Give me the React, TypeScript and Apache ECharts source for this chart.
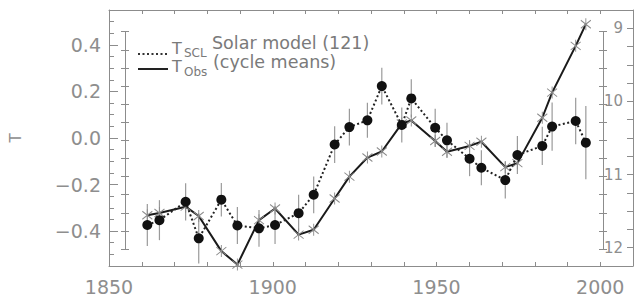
import React, { useEffect, useRef } from "react";
import * as echarts from "echarts";

// Solar cycle epochs (years)
const years = [1861.7, 1865.4, 1873.4, 1877.4, 1884.3, 1889.2, 1895.8, 1900.7, 1907.9, 1912.5, 1918.9, 1923.4, 1928.9, 1933.3, 1939.4, 1942.3, 1949.6, 1953.2, 1960.1, 1963.7, 1971.0, 1974.7, 1982.3, 1985.3, 1992.5, 1995.6];
// T_SCL solar model (121) with error bars
const tScl = [-0.374, -0.353, -0.274, -0.431, -0.265, -0.376, -0.388, -0.374, -0.323, -0.244, -0.028, 0.047, 0.076, 0.223, 0.056, 0.170, 0.044, -0.010, -0.089, -0.128, -0.181, -0.073, -0.034, 0.049, 0.073, -0.020];
const tSclErr = [0.090, 0.086, 0.080, 0.108, 0.072, 0.079, 0.079, 0.082, 0.079, 0.079, 0.079, 0.079, 0.075, 0.079, 0.075, 0.082, 0.082, 0.075, 0.075, 0.075, 0.079, 0.082, 0.082, 0.104, 0.100, 0.157];
// T_Obs (cycle means)
const tObs = [-0.332, -0.322, -0.295, -0.335, -0.486, -0.544, -0.353, -0.303, -0.415, -0.394, -0.260, -0.166, -0.084, -0.058, 0.062, 0.075, -0.013, -0.059, -0.034, -0.016, -0.125, -0.108, 0.087, 0.195, 0.396, 0.489];

const yearLabels = [1850, 1900, 1950, 2000];
const tLabels = [-0.4, -0.2, 0.0, 0.2, 0.4];
const cycleLabels = [9, 10, 11, 12];
const innerTicks = [0, 1, 2, 3, 4, 5, 6, 7, 8, 9, 10, 11, 12];

const GREY = "#8c8c8c";
const TXT = "#8e8e8e";
const LEG = "#7a7a7a";
const FONT = "DejaVu Sans";

const asterisk = "path://M5,0L5,12M0,2L10,10M0,10L10,2";

export default function App() {
  const ref = useRef<HTMLDivElement>(null);
  useEffect(() => {
    if (!ref.current) return;
    const chart = echarts.init(ref.current, null, { renderer: "svg" });
    const innerAxis = (pos: string, inside: boolean, line: boolean) => ({
      gridIndex: 1,
      type: "value",
      position: pos,
      min: 0,
      max: 12,
      interval: 1,
      axisLine: { show: line, onZero: false, lineStyle: { color: GREY, width: 1 } },
      axisTick: { show: true, inside, length: 4, customValues: innerTicks, lineStyle: { color: GREY, width: 1 } },
      axisLabel: { show: false },
      splitLine: { show: false },
    });
    const option: any = {
      animation: false,
      backgroundColor: "#ffffff",
      grid: [
        { left: 108, top: 10, width: 525, height: 256 },
        { left: 125, top: 31.7, width: 478, height: 217.3 },
      ],
      xAxis: [
        {
          gridIndex: 0,
          type: "value",
          position: "bottom",
          min: 1850,
          max: 2010,
          interval: 10,
          axisLine: { show: true, onZero: false, lineStyle: { color: GREY, width: 1 } },
          axisTick: { show: true, inside: true, length: 4, lineStyle: { color: GREY } },
          axisLabel: {
            customValues: yearLabels,
            margin: 11,
            color: TXT,
            fontSize: 19,
            fontFamily: FONT,
            formatter: (v: number) => String(Math.round(v)),
          },
          splitLine: { show: false },
        },
        {
          gridIndex: 0,
          type: "value",
          position: "top",
          min: 1850,
          max: 2010,
          interval: 10,
          axisLine: { show: true, onZero: false, lineStyle: { color: GREY, width: 1 } },
          axisTick: { show: true, inside: true, length: 4, lineStyle: { color: GREY } },
          axisLabel: { show: false },
          splitLine: { show: false },
        },
        { gridIndex: 1, type: "value", min: 1850, max: 2010, show: false },
      ],
      yAxis: [
        {
          gridIndex: 0,
          type: "value",
          position: "left",
          min: -0.55,
          max: 0.55,
          interval: 0.05,
          axisLine: { show: true, onZero: false, lineStyle: { color: GREY, width: 1 } },
          axisTick: { show: true, inside: true, length: 5, lineStyle: { color: GREY } },
          axisLabel: {
            customValues: tLabels,
            margin: 8,
            color: TXT,
            fontSize: 19,
            fontFamily: FONT,
            formatter: (v: number) => (v < -0.001 ? "\u2212" : "") + Math.abs(v).toFixed(1),
          },
          splitLine: { show: false },
          name: "T",
          nameLocation: "middle",
          nameGap: 86,
          nameRotate: 90,
          nameTextStyle: { color: TXT, fontSize: 15, fontFamily: FONT },
        },
        {
          gridIndex: 0,
          type: "value",
          position: "left",
          min: -0.55,
          max: 0.55,
          axisLine: { show: false, onZero: false },
          axisTick: { show: true, inside: true, length: 9, customValues: tLabels, lineStyle: { color: GREY } },
          axisLabel: { show: false },
          splitLine: { show: false },
        },
        {
          gridIndex: 0,
          type: "value",
          position: "right",
          inverse: true,
          min: 8.75,
          max: 12.25,
          interval: 0.25,
          axisLine: { show: true, onZero: false, lineStyle: { color: GREY, width: 1 } },
          axisTick: { show: true, inside: true, length: 6, lineStyle: { color: GREY } },
          axisLabel: { inside: true, customValues: cycleLabels, margin: 10, color: TXT, fontSize: 15, fontFamily: FONT },
          splitLine: { show: false },
        },
        innerAxis("left", false, true),
        innerAxis("left", true, false),
        innerAxis("right", false, true),
        innerAxis("right", true, false),
      ],
      series: [
        {
          name: "T_SCL error",
          type: "custom",
          xAxisIndex: 0,
          yAxisIndex: 0,
          z: 1,
          data: years.map((y, i) => [y, tScl[i], tSclErr[i]]),
          renderItem: (params: any, api: any) => {
            const x = api.value(0);
            const v = api.value(1);
            const e = api.value(2);
            const lo = api.coord([x, v - e]);
            const hi = api.coord([x, v + e]);
            return {
              type: "line",
              shape: { x1: lo[0], y1: lo[1], x2: hi[0], y2: hi[1] },
              style: { stroke: "#9a9a9a", lineWidth: 1.2 },
            };
          },
        },
        {
          name: "T_Obs (cycle means)",
          type: "line",
          xAxisIndex: 0,
          yAxisIndex: 0,
          z: 2,
          data: years.map((y, i) => [y, tObs[i]]),
          symbol: asterisk,
          symbolSize: [10, 12],
          itemStyle: { color: "rgba(0,0,0,0)", borderColor: "#8a8a8a", borderWidth: 1 },
          lineStyle: { color: "#1a1a1a", width: 2 },
        },
        {
          name: "T_SCL Solar model (121)",
          type: "line",
          xAxisIndex: 0,
          yAxisIndex: 0,
          z: 3,
          data: years.map((y, i) => [y, tScl[i]]),
          symbol: "circle",
          symbolSize: 10,
          itemStyle: { color: "#111" },
          lineStyle: { color: "#222", width: 2, type: [2, 2.5] },
        },
      ],
      graphic: [
        { type: "line", shape: { x1: 138, y1: 54, x2: 168, y2: 54 }, style: { stroke: "#333", lineWidth: 2, lineDash: [2, 2.5] } },
        { type: "text", x: 172, y: 48.5, style: { text: "T", fontSize: 16, fill: LEG, fontFamily: FONT, verticalAlign: "middle" } },
        { type: "text", x: 184, y: 53, style: { text: "SCL", fontSize: 12, fill: LEG, fontFamily: FONT, verticalAlign: "middle" } },
        { type: "text", x: 212, y: 43, style: { text: "Solar model (121)", fontSize: 17.5, fill: LEG, fontFamily: FONT, verticalAlign: "middle" } },
        { type: "line", shape: { x1: 138, y1: 69, x2: 168, y2: 69 }, style: { stroke: "#222", lineWidth: 2 } },
        { type: "text", x: 172, y: 66.5, style: { text: "T", fontSize: 16, fill: LEG, fontFamily: FONT, verticalAlign: "middle" } },
        { type: "text", x: 184, y: 72, style: { text: "Obs", fontSize: 12, fill: LEG, fontFamily: FONT, verticalAlign: "middle" } },
        { type: "text", x: 213, y: 62, style: { text: "(cycle means)", fontSize: 17.5, fill: LEG, fontFamily: FONT, verticalAlign: "middle" } },
      ],
    };
    chart.setOption(option);
    return () => chart.dispose();
  }, []);
  return <div ref={ref} style={{ position: "fixed", left: 0, top: 0, width: 639, height: 301 }} />;
}
